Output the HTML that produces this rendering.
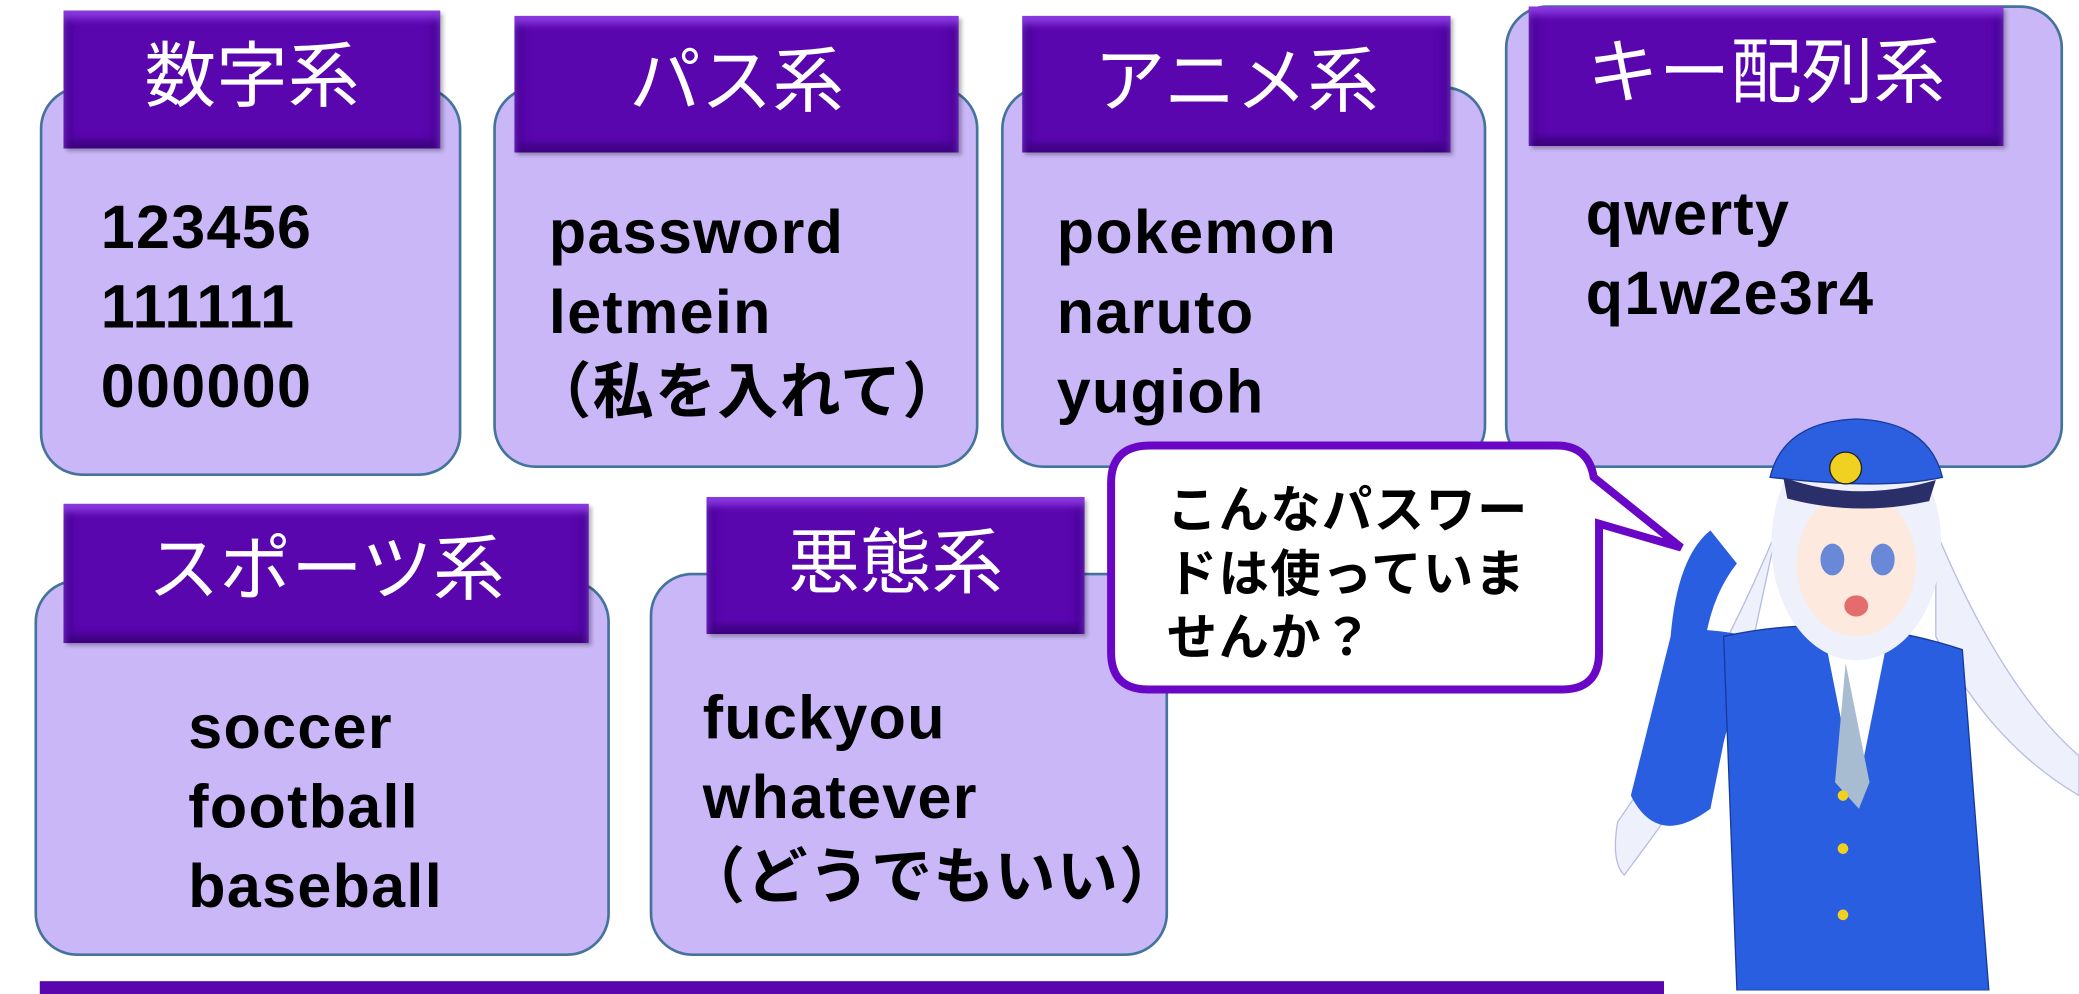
<!DOCTYPE html>
<html><head><meta charset="utf-8"><style>
html,body{margin:0;padding:0;background:#fff;width:2079px;height:990px;overflow:hidden}
#w{position:absolute;left:0;top:0;width:1568px;height:747px;transform:scale(1.32589);transform-origin:0 0}
.box{position:absolute;background:#c9b7f7;border:2px solid #44739c;border-radius:32px;box-sizing:border-box}
.hd{position:absolute;background:#5a06ae;box-sizing:border-box;box-shadow:inset 0 6px 6px #8a3ae0,inset 0 -6px 6px #3d0380,inset 6px 0 6px #4a0598,inset -6px 0 6px #4a0598,2px 2px 3px rgba(0,0,0,.3);color:#fff;font-family:"Liberation Sans","Noto Sans CJK JP",sans-serif;font-size:54px;text-align:center;line-height:100px}
.t{position:absolute;font-family:"Liberation Sans","Noto Sans CJK JP",sans-serif;font-weight:bold;font-size:46px;line-height:60px;color:#000;letter-spacing:1px;white-space:nowrap;transform:scaleX(1.0);transform-origin:0 0}
.p{margin-left:-14px}
</style></head><body><div id="w">
<div class="box" style="left:30px;top:65px;width:318px;height:294px"></div>
<div class="hd" style="left:48px;top:8px;width:284px;height:104px">数字系</div>
<div class="t" style="left:76px;top:141px">123456<br>111111<br>000000</div>

<div class="box" style="left:372px;top:65px;width:366px;height:288px"></div>
<div class="hd" style="left:388px;top:12px;width:335px;height:103px">パス系</div>
<div class="t" style="left:414px;top:145px">password<br>letmein<br><span class="p">（私を入れて）</span></div>

<div class="box" style="left:755px;top:65px;width:366px;height:288px"></div>
<div class="hd" style="left:771px;top:12px;width:323px;height:103px">アニメ系</div>
<div class="t" style="left:797px;top:145px">pokemon<br>naruto<br>yugioh</div>

<div class="box" style="left:1135px;top:4px;width:421px;height:349px"></div>
<div class="hd" style="left:1153px;top:5px;width:358px;height:105px">キー配列系</div>
<div class="t" style="left:1196px;top:131px">qwerty<br>q1w2e3r4</div>

<div class="box" style="left:26px;top:437px;width:434px;height:284px"></div>
<div class="hd" style="left:48px;top:380px;width:396px;height:105px">スポーツ系</div>
<div class="t" style="left:142px;top:518px">soccer<br>football<br>baseball</div>

<div class="box" style="left:490px;top:432px;width:391px;height:289px"></div>
<div class="hd" style="left:533px;top:375px;width:285px;height:103px">悪態系</div>
<div class="t" style="left:530px;top:511px">fuckyou<br>whatever<br><span class="p">（どうでもいい）</span></div>

<div style="position:absolute;left:30px;top:740px;width:1225px;height:10px;background:#5a06ae"></div>

<svg style="position:absolute;left:0;top:0" width="1568" height="747">
<path d="M868,336 H1174 Q1198,336 1202,360 L1268,413 L1206,395 V492 Q1206,520 1178,520 H866 Q838,520 838,492 V364 Q838,336 868,336 Z" fill="#fff" stroke="#6a06c6" stroke-width="6"/>
<g>
<path d="M1340,400 Q1290,520 1220,620 Q1215,650 1225,660 Q1270,600 1310,540 Z" fill="#eef0fb" stroke="#b8bde0"/>
<path d="M1460,400 Q1510,520 1568,570 L1568,600 Q1500,560 1460,480 Z" fill="#eef0fb" stroke="#b8bde0"/>
<path d="M1320,480 Q1270,470 1260,480 L1230,600 Q1250,640 1290,610 L1300,560 Z" fill="#2a5ee0"/>
<path d="M1300,480 Q1390,460 1480,490 L1500,747 H1310 Z" fill="#2a5ee0" stroke="#173a9a"/>
<path d="M1375,475 L1400,600 L1425,475 Z" fill="#fff"/>
<path d="M1392,500 L1384,590 L1402,610 L1410,590 Z" fill="#a7bcd0"/>
<path d="M1260,480 Q1265,420 1290,400 L1310,425 Q1290,450 1285,490 Z" fill="#2a5ee0"/>
<ellipse cx="1400" cy="410" rx="64" ry="88" fill="#eef0fb"/>
<ellipse cx="1400" cy="425" rx="45" ry="55" fill="#fde9de"/>
<ellipse cx="1382" cy="422" rx="9" ry="12" fill="#6a88d8"/>
<ellipse cx="1420" cy="422" rx="9" ry="12" fill="#6a88d8"/>
<ellipse cx="1400" cy="457" rx="9" ry="8" fill="#e46c6c"/>
<path d="M1335,360 Q1345,318 1400,316 Q1455,318 1465,360 Q1420,370 1335,360 Z" fill="#2b5fe0" stroke="#173a9a"/>
<path d="M1345,360 Q1400,380 1460,362 L1455,378 Q1400,390 1348,376 Z" fill="#2a2f6a"/>
<circle cx="1392" cy="353" r="12" fill="#f0d020" stroke="#222"/>
<circle cx="1390" cy="690" r="4" fill="#f0d020"/>
<circle cx="1390" cy="640" r="4" fill="#f0d020"/>
<circle cx="1390" cy="600" r="4" fill="#f0d020"/>
</g>
</svg>
<div class="t" style="left:880px;top:362px;font-size:38px;line-height:48px;letter-spacing:1px">こんなパスワー<br>ドは使っていま<br>せんか？</div>
</div></body></html>
